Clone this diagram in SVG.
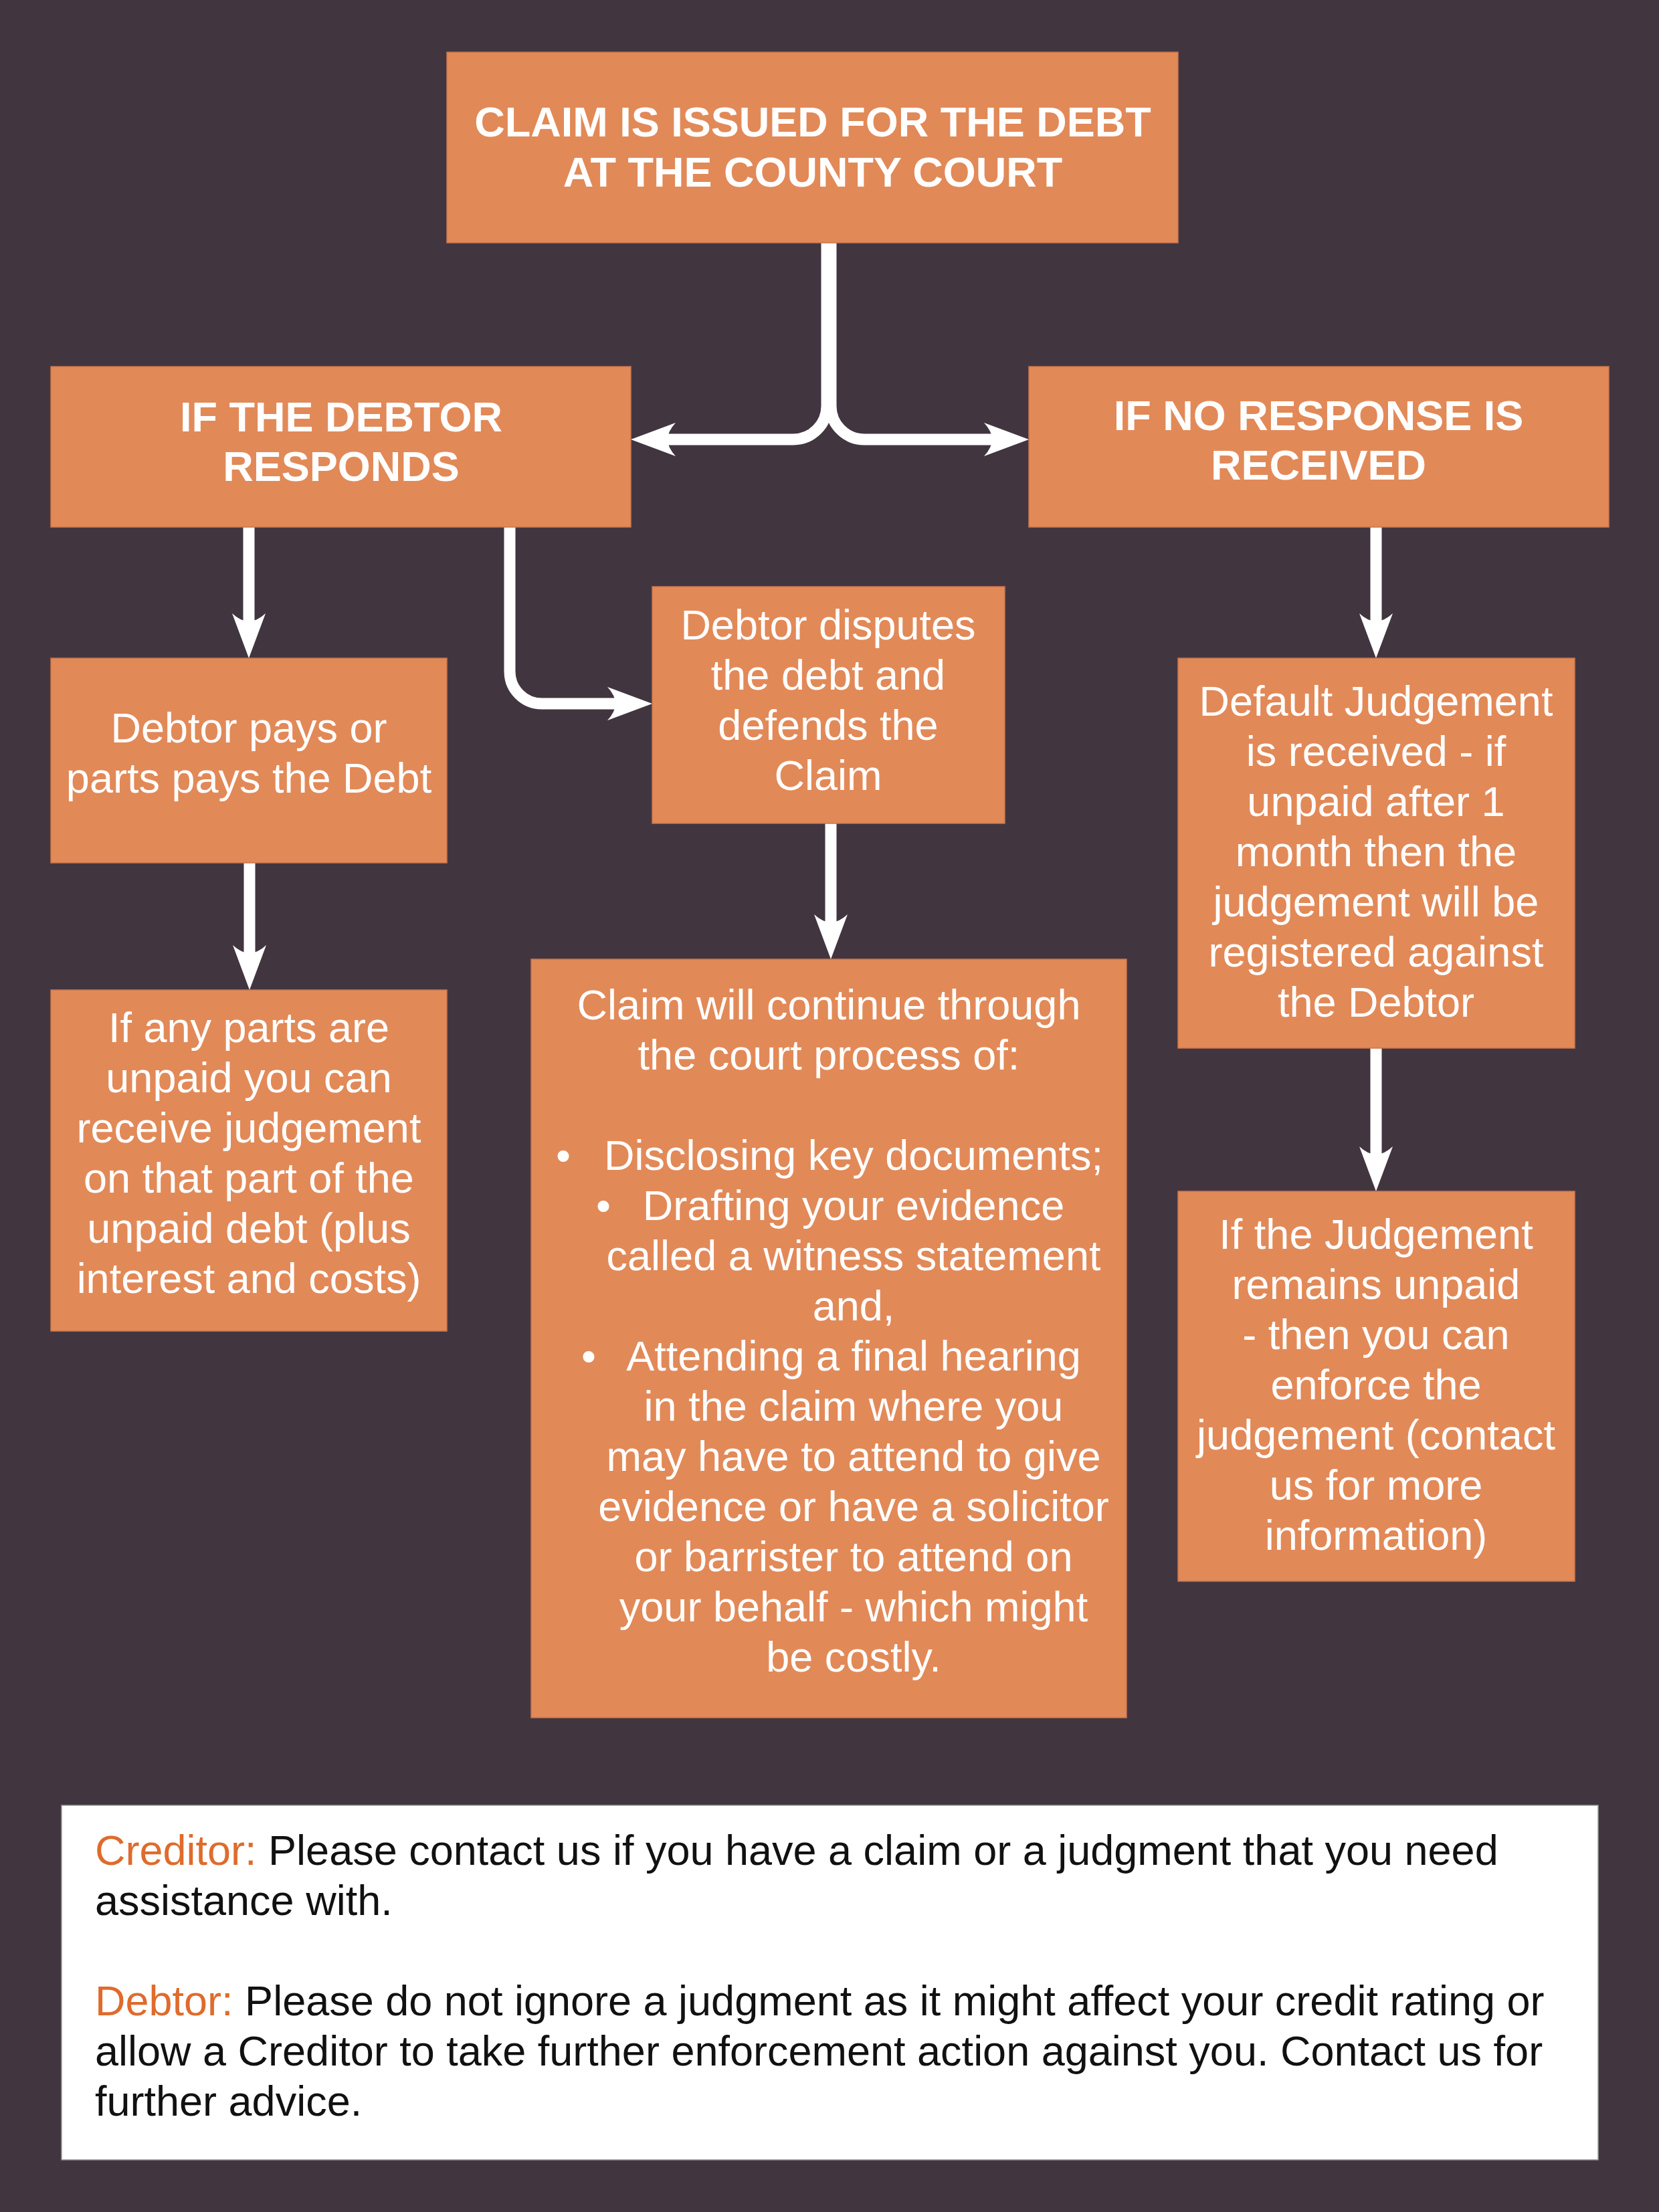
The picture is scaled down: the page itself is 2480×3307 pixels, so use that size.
<svg xmlns="http://www.w3.org/2000/svg" width="2480" height="3307" viewBox="0 0 2480 3307">
<style>
.box{fill:#E28958;stroke:#C8764C;stroke-width:1.5}
.hd{font-family:"Liberation Sans",Arial,sans-serif;font-weight:bold;font-size:63px;fill:#ffffff;text-anchor:middle}
.tx{font-family:"Liberation Sans",Arial,sans-serif;font-size:63px;fill:#ffffff;text-anchor:middle}
.ft{font-family:"Liberation Sans",Arial,sans-serif;font-size:63px;fill:#111111}
.lb{fill:#DF6B2D}
.cn{fill:none;stroke:#ffffff;stroke-width:17}
</style>
<defs>
<marker id="ah" markerUnits="userSpaceOnUse" viewBox="-20 -30 75 60" markerWidth="75" markerHeight="60" refX="0" refY="0" orient="auto" overflow="visible">
<path d="M50,0 L-17,-25 Q-5,-12 -5,0 Q-5,12 -17,25 Z" fill="#ffffff"/>
</marker>
</defs>
<rect width="2480" height="3307" fill="#413640"/>
<g id="connectors">
<path class="cn" d="M1236,363 V607 A50 50 0 0 1 1186,657 H993" marker-end="url(#ah)"/>
<path class="cn" d="M1242,363 V607 A50 50 0 0 0 1292,657 H1488" marker-end="url(#ah)"/>
<path class="cn" d="M372,788 V934" marker-end="url(#ah)"/>
<path class="cn" d="M762,788 V1004 A48 48 0 0 0 810,1052 H925" marker-end="url(#ah)"/>
<path class="cn" d="M2057,788 V934" marker-end="url(#ah)"/>
<path class="cn" d="M373,1290 V1430" marker-end="url(#ah)"/>
<path class="cn" d="M1242,1231 V1384" marker-end="url(#ah)"/>
<path class="cn" d="M2057,1567 V1731" marker-end="url(#ah)"/>
</g>
<g id="claim-issued">
<rect class="box" x="668" y="78" width="1093" height="285"/>
<text class="hd" x="1215" y="204">CLAIM IS ISSUED FOR THE DEBT</text>
<text class="hd" x="1215" y="279">AT THE COUNTY COURT</text>
</g>
<g id="debtor-responds">
<rect class="box" x="76" y="548" width="867" height="240"/>
<text class="hd" x="510" y="645">IF THE DEBTOR</text>
<text class="hd" x="510" y="719">RESPONDS</text>
</g>
<g id="no-response">
<rect class="box" x="1538" y="548" width="867" height="240"/>
<text class="hd" x="1971" y="643">IF NO RESPONSE IS</text>
<text class="hd" x="1971" y="717">RECEIVED</text>
</g>
<g id="debtor-pays">
<rect class="box" x="76" y="984" width="592" height="306"/>
<text class="tx" x="372" y="1110">Debtor pays or</text>
<text class="tx" x="372" y="1185">parts pays the Debt</text>
</g>
<g id="debtor-disputes">
<rect class="box" x="975" y="877" width="527" height="354"/>
<text class="tx" x="1238" y="956">Debtor disputes</text>
<text class="tx" x="1238" y="1031">the debt and</text>
<text class="tx" x="1238" y="1106">defends the</text>
<text class="tx" x="1238" y="1181">Claim</text>
</g>
<g id="default-judgement">
<rect class="box" x="1761" y="984" width="593" height="583"/>
<text class="tx" x="2057" y="1070">Default Judgement</text>
<text class="tx" x="2057" y="1145">is received - if</text>
<text class="tx" x="2057" y="1220">unpaid after 1</text>
<text class="tx" x="2057" y="1295">month then the</text>
<text class="tx" x="2057" y="1370">judgement will be</text>
<text class="tx" x="2057" y="1445">registered against</text>
<text class="tx" x="2057" y="1520">the Debtor</text>
</g>
<g id="parts-unpaid">
<rect class="box" x="76" y="1480" width="592" height="510"/>
<text class="tx" x="372" y="1558">If any parts are</text>
<text class="tx" x="372" y="1633">unpaid you can</text>
<text class="tx" x="372" y="1708">receive judgement</text>
<text class="tx" x="372" y="1783">on that part of the</text>
<text class="tx" x="372" y="1858">unpaid debt (plus</text>
<text class="tx" x="372" y="1933">interest and costs)</text>
</g>
<g id="court-process">
<rect class="box" x="794" y="1434" width="890" height="1134"/>
<text class="tx" x="1239" y="1524">Claim will continue through</text>
<text class="tx" x="1239" y="1599">the court process of:</text>
<text class="tx" x="842" y="1749">•</text>
<text class="tx" x="1276" y="1749">Disclosing key documents;</text>
<text class="tx" x="902" y="1824">•</text>
<text class="tx" x="1276" y="1824">Drafting your evidence</text>
<text class="tx" x="1276" y="1899">called a witness statement</text>
<text class="tx" x="1276" y="1974">and,</text>
<text class="tx" x="880" y="2049">•</text>
<text class="tx" x="1276" y="2049">Attending a final hearing</text>
<text class="tx" x="1276" y="2124">in the claim where you</text>
<text class="tx" x="1276" y="2199">may have to attend to give</text>
<text class="tx" x="1276" y="2274">evidence or have a solicitor</text>
<text class="tx" x="1276" y="2349">or barrister to attend on</text>
<text class="tx" x="1276" y="2424">your behalf - which might</text>
<text class="tx" x="1276" y="2499">be costly.</text>
</g>
<g id="judgement-unpaid">
<rect class="box" x="1761" y="1781" width="593" height="583"/>
<text class="tx" x="2057" y="1867">If the Judgement</text>
<text class="tx" x="2057" y="1942">remains unpaid</text>
<text class="tx" x="2057" y="2017">- then you can</text>
<text class="tx" x="2057" y="2092">enforce the</text>
<text class="tx" x="2057" y="2167">judgement (contact</text>
<text class="tx" x="2057" y="2242">us for more</text>
<text class="tx" x="2057" y="2317">information)</text>
</g>
<g id="note">
<rect x="92" y="2699" width="2297" height="530" fill="#ffffff" stroke="#9a9a9a" stroke-width="1.5"/>
<text class="ft" x="142" y="2788"><tspan class="lb">Creditor:</tspan> Please contact us if you have a claim or a judgment that you need</text>
<text class="ft" x="142" y="2863">assistance with.</text>
<text class="ft" x="142" y="3013"><tspan class="lb">Debtor:</tspan> Please do not ignore a judgment as it might affect your credit rating or</text>
<text class="ft" x="142" y="3088">allow a Creditor to take further enforcement action against you. Contact us for</text>
<text class="ft" x="142" y="3163">further advice.</text>
</g>
</svg>
